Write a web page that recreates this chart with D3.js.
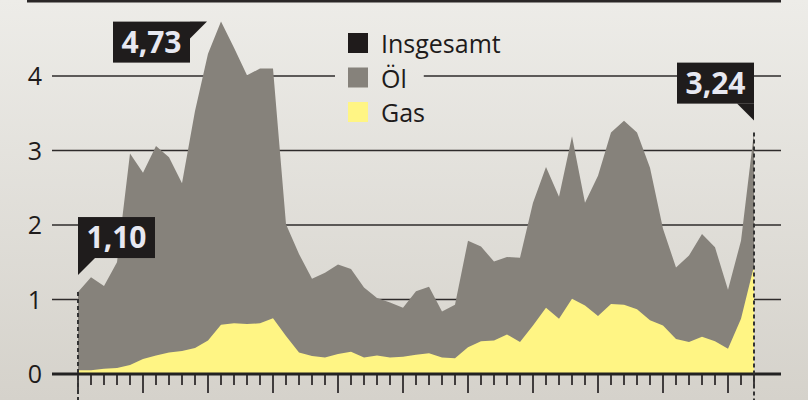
<!DOCTYPE html>
<html>
<head>
<meta charset="utf-8">
<script src="https://cdn.jsdelivr.net/npm/d3@7"></script>
<style>
  html, body { margin: 0; padding: 0; }
  body { width: 808px; height: 400px; overflow: hidden; }
  svg { display: block; font-family: 'Open Sans', 'Noto Sans', sans-serif; }
</style>
</head>
<body>
<div id="chart"></div>
<script>
// values, one point per tick
const insgesamt = [
  1.10, 1.30, 1.18, 1.50, 2.96, 2.70, 3.06, 2.91, 2.56, 3.53,
  4.30, 4.73, 4.38, 4.01, 4.10, 4.10, 2.01, 1.61, 1.28, 1.36,
  1.47, 1.41, 1.16, 1.02, 0.96, 0.89, 1.11, 1.17, 0.84, 0.93,
  1.79, 1.71, 1.51, 1.57, 1.56, 2.30, 2.78, 2.38, 3.19, 2.30,
  2.66, 3.24, 3.40, 3.24, 2.77, 1.95, 1.43, 1.59, 1.88, 1.70,
  1.13, 1.79, 3.24
];
const gas = [
  0.05, 0.05, 0.07, 0.08, 0.12, 0.20, 0.25, 0.29, 0.31, 0.35,
  0.45, 0.66, 0.68, 0.67, 0.68, 0.75, 0.51, 0.29, 0.24, 0.22,
  0.27, 0.30, 0.22, 0.25, 0.22, 0.23, 0.26, 0.28, 0.22, 0.21,
  0.36, 0.44, 0.45, 0.53, 0.43, 0.65, 0.89, 0.74, 1.01, 0.92,
  0.78, 0.94, 0.93, 0.87, 0.72, 0.65, 0.47, 0.43, 0.50, 0.44,
  0.34, 0.74, 1.45
];
const yTicks = [0, 1, 2, 3, 4];
const legendItems = ['Insgesamt', 'Öl', 'Gas'];
const callouts = [
  { index: 0, text: '1,10', side: 'bottom-left' },
  { index: 11, text: '4,73', side: 'top-right' },
  { index: 52, text: '3,24', side: 'bottom-right' }
];

const width = 808;
const height = 400;
const colors = { Insgesamt: '#1f1b1b', 'Öl': '#86827b', Gas: '#fff584' };

const svg = d3.select('#chart').append('svg')
  .attr('width', width)
  .attr('height', height);

// background gradient, reused behind the legend
const defs = svg.append('defs');
const grad = defs.append('linearGradient')
  .attr('id', 'bg')
  .attr('gradientUnits', 'userSpaceOnUse')
  .attr('x1', 0).attr('y1', 0).attr('x2', 0).attr('y2', height);
grad.append('stop').attr('offset', 0).attr('stop-color', '#edece8');
grad.append('stop').attr('offset', 1).attr('stop-color', '#d5d2cb');

svg.append('rect')
  .attr('width', width).attr('height', height)
  .attr('fill', 'url(#bg)');

const x = d3.scaleLinear().domain([0, insgesamt.length - 1]).range([78, 754]);
const y = d3.scaleLinear().domain([0, 4]).range([374, 76]);

// top rule
svg.append('rect')
  .attr('x', 27).attr('y', 0).attr('width', 754).attr('height', 2.5)
  .attr('fill', '#2a2727');

// grid lines
svg.append('g')
  .selectAll('line')
  .data(yTicks.filter(d => d > 0))
  .join('line')
  .attr('x1', 52).attr('x2', 781)
  .attr('y1', d => y(d)).attr('y2', d => y(d))
  .attr('stroke', '#2e2b2b')
  .attr('stroke-width', 1.5);

// y labels
svg.append('g')
  .selectAll('text')
  .data(yTicks)
  .join('text')
  .attr('x', 42)
  .attr('y', d => y(d))
  .attr('dy', '0.36em')
  .attr('text-anchor', 'end')
  .attr('font-size', 25)
  .attr('fill', '#1e1b1b')
  .text(d => d);

// areas
const totalArea = d3.area()
  .x((d, i) => x(i))
  .y0(y(0))
  .y1(d => y(d));

svg.append('path')
  .datum(insgesamt)
  .attr('fill', colors['Öl'])
  .attr('d', totalArea);

svg.append('path')
  .datum(gas)
  .attr('fill', colors.Gas)
  .attr('d', totalArea);

// legend, each row with a patch of background so grid lines stop at it
const legendX = 348;
const legendY = i => 33 + i * 34.5;
const rows = svg.append('g')
  .selectAll('g')
  .data(legendItems)
  .join('g');

rows.append('rect')
  .attr('class', 'knockout')
  .attr('x', legendX - 13)
  .attr('y', (d, i) => legendY(i) - 6)
  .attr('height', 32)
  .attr('fill', 'url(#bg)');

rows.append('rect')
  .attr('x', legendX)
  .attr('y', (d, i) => legendY(i))
  .attr('width', 20).attr('height', 20)
  .attr('fill', d => colors[d]);

rows.append('text')
  .attr('x', legendX + 33)
  .attr('y', (d, i) => legendY(i) + 20)
  .attr('font-size', 25)
  .attr('fill', '#1e1b1b')
  .text(d => d);

rows.each(function() {
  const g = d3.select(this);
  const w = g.select('text').node().getComputedTextLength();
  g.select('rect.knockout').attr('width', w + 33 + 30);
});

// axis baseline and ticks
svg.append('g')
  .selectAll('line')
  .data(d3.range(insgesamt.length))
  .join('line')
  .attr('x1', d => x(d)).attr('x2', d => x(d))
  .attr('y1', y(0))
  .attr('y2', d => y(0) + (d % 5 === 0 ? 19 : 11))
  .attr('stroke', '#403d3d')
  .attr('stroke-width', 2);

svg.append('line')
  .attr('x1', 52).attr('x2', 781)
  .attr('y1', y(0)).attr('y2', y(0))
  .attr('stroke', '#222')
  .attr('stroke-width', 3);

// callouts with dashed drop lines
const boxW = 77;
const boxH = 41;
const tip = 17;

callouts.forEach(c => {
  const px = x(c.index);
  const py = y(insgesamt[c.index]);
  const g = svg.append('g');

  if (c.side !== 'top-right') {
    g.append('line')
      .attr('x1', px).attr('x2', px)
      .attr('y1', py).attr('y2', height)
      .attr('stroke', '#333')
      .attr('stroke-width', 2)
      .attr('stroke-dasharray', '4,3');
  }

  let bx, by, tri;
  if (c.side === 'bottom-left') {
    bx = px; by = py - 18 - tip - boxH + 1;
    tri = [[px, by + boxH], [px + tip, by + boxH], [px, by + boxH + tip]];
  } else if (c.side === 'bottom-right') {
    bx = px - boxW; by = py - 12 - tip - boxH;
    tri = [[px, by + boxH], [px - tip, by + boxH], [px, by + boxH + tip]];
  } else {
    bx = px - 14 - tip - boxW; by = py;
    tri = [[bx + boxW, by], [bx + boxW + tip, by], [bx + boxW, by + tip]];
  }

  g.append('rect')
    .attr('x', bx).attr('y', by)
    .attr('width', boxW).attr('height', boxH)
    .attr('fill', '#1f1c1c');
  g.append('path')
    .attr('d', d3.line()(tri) + 'Z')
    .attr('fill', '#1f1c1c');
  g.append('text')
    .attr('x', bx + boxW / 2)
    .attr('y', by + 31)
    .attr('text-anchor', 'middle')
    .attr('font-size', 30)
    .attr('font-weight', 700)
    .attr('fill', '#e7e8f1')
    .text(c.text);
});
</script>
</body>
</html>
